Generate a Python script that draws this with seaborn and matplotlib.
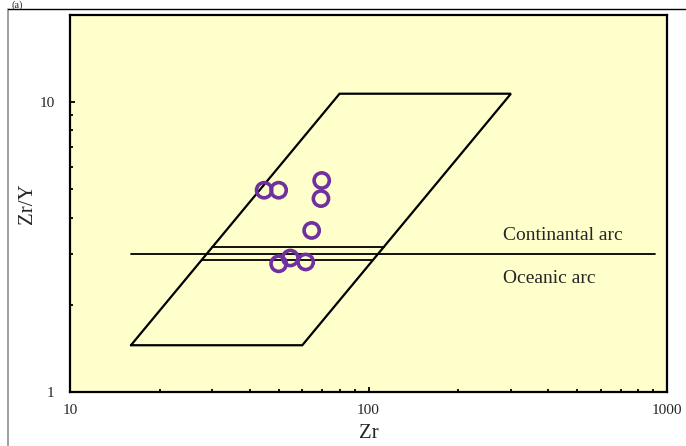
import matplotlib
matplotlib.use("Agg")
import matplotlib.pyplot as plt
from matplotlib.lines import Line2D
from matplotlib.ticker import LogLocator, NullFormatter, FixedLocator, FixedFormatter
import pandas as pd
import seaborn as sns

# Sample values (Zr, Zr/Y)
zr = [44.7, 50.0, 69.7, 69.3, 64.5, 50.0, 54.7, 61.6]
zr_y = [4.97, 4.97, 5.37, 4.65, 3.61, 2.77, 2.90, 2.81]

# Discrimination field outline
box_x = [16, 60, 300, 80, 16]
box_y = [1.45, 1.45, 10.7, 10.7, 1.45]

# Arc boundary line and the two short lines inside the field
arc_x = [16, 910]
arc_y = [3.0, 3.0]
upper_x = [30, 112.7]
upper_y = [3.16, 3.16]
lower_x = [27.6, 103.5]
lower_y = [2.85, 2.85]

x_ticks = [10, 100, 1000]
x_labels = ["10", "100", "1000"]
y_ticks = [1, 10]
y_labels = ["1", "10"]

sns.set_style("ticks")
plt.rcParams["font.family"] = ["Liberation Serif", "DejaVu Serif"]

fig = plt.figure(figsize=(6.86, 4.46), dpi=100)
ax = fig.add_axes([70 / 686, 1 - 392 / 446, 597 / 686, 377 / 446])
ax.set_facecolor("#FFFFCC")

ax.set_xscale("log")
ax.set_yscale("log")

lines = pd.DataFrame({"x": box_x, "y": box_y})
ax.plot(lines["x"], lines["y"], color="black", lw=1.6, solid_joinstyle="miter")
ax.plot(arc_x, arc_y, color="black", lw=1.3)
ax.plot(upper_x, upper_y, color="black", lw=1.3)
ax.plot(lower_x, lower_y, color="black", lw=1.3)

pts = pd.DataFrame({"Zr": zr, "Zr/Y": zr_y})
sns.scatterplot(data=pts, x="Zr", y="Zr/Y", ax=ax, marker="o", s=120,
                facecolor="none", edgecolor="#7030A0", linewidth=2.6, zorder=5)

ax.text(282, 3.48, "Continantal arc", fontsize=14, va="center", ha="left")
ax.text(282, 2.47, "Oceanic arc", fontsize=14, va="center", ha="left")

ax.set_xlim(10, 1000)
ax.set_ylim(1, 20)
ax.xaxis.set_major_locator(FixedLocator(x_ticks))
ax.xaxis.set_major_formatter(FixedFormatter(x_labels))
ax.yaxis.set_major_locator(FixedLocator(y_ticks))
ax.yaxis.set_major_formatter(FixedFormatter(y_labels))
ax.xaxis.set_minor_locator(LogLocator(base=10, subs=range(2, 10)))
ax.yaxis.set_minor_locator(LogLocator(base=10, subs=range(2, 10)))
ax.xaxis.set_minor_formatter(NullFormatter())
ax.yaxis.set_minor_formatter(NullFormatter())

ax.tick_params(which="major", direction="in", length=3.5, width=1.3,
               labelsize=11, color="black")
ax.tick_params(axis="x", which="major", pad=9)
ax.tick_params(axis="y", which="major", pad=11)
ax.tick_params(which="minor", direction="in", length=2.5, width=1.3, color="black")

for side in ["left", "bottom", "right", "top"]:
    ax.spines[side].set_visible(True)
    ax.spines[side].set_linewidth(1.6)
    ax.spines[side].set_color("black")

ax.set_xlabel("Zr", fontsize=15)
ax.xaxis.set_label_coords(0.5, -0.085)
ax.set_ylabel("Zr/Y", fontsize=15)
ax.yaxis.set_label_coords(-0.055, 0.5)

# outer frame of the figure panel and its label
fig.add_artist(Line2D([8 / 686, 8 / 686], [0, 1 - 9 / 446], color="#909090", lw=1.2))
fig.add_artist(Line2D([8 / 686, 1], [1 - 9 / 446, 1 - 9 / 446], color="black", lw=1.0))
fig.text(11 / 686, 0.999, "(a)", fontsize=7.5, va="top", ha="left")

fig.savefig("out.png", dpi=100)
